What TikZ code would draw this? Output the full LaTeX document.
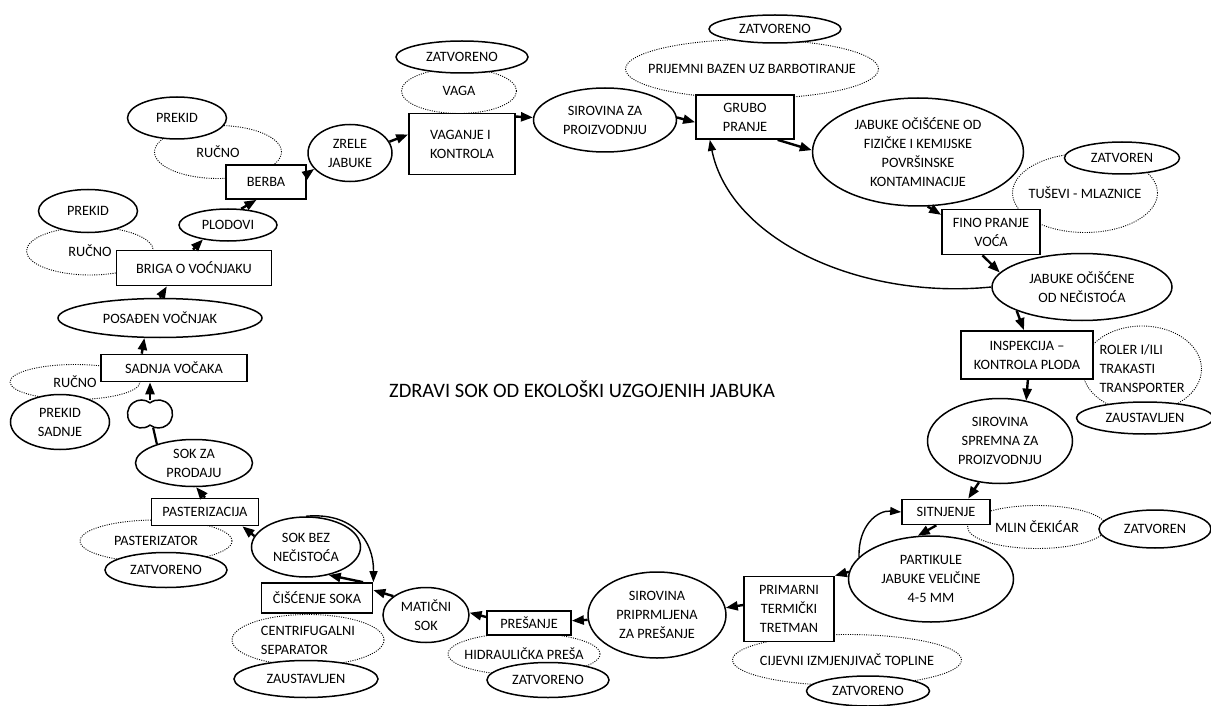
\documentclass[tikz,border=0pt]{standalone}
\usepackage{fontspec}
\setmainfont{Carlito}
\usetikzlibrary{shapes.geometric, arrows.meta, calc}

\begin{document}
\begin{tikzpicture}[x=1pt, y=-1pt,
  every node/.style={inner sep=-300pt, align=center, font=\fontsize{14.3}{19}\selectfont},
  korak/.style={draw, rectangle, fill=white, line width=1.7pt},
  stanje/.style={draw, ellipse, fill=white, line width=1.5pt},
  sredstvo/.style={draw, ellipse, line width=0.9pt, dash pattern=on 1pt off 1.3pt},
  tok/.style={-{Triangle[length=12pt,width=9pt]}, line width=2.4pt},
  povrat/.style={-{Triangle[length=11pt,width=8pt]}, line width=1.4pt}]
\useasboundingbox (0,0) rectangle (1211,706);

% Sredstva
\node[sredstvo, minimum width=130, minimum height=35] (sadnjaRucno) at (75,382) {RUČNO};
\node[sredstvo, minimum width=127, minimum height=48] (brigaRucno) at (90,251) {RUČNO};
\node[sredstvo, minimum width=127, minimum height=53] (berbaRucno) at (218,152) {RUČNO};
\node[sredstvo, minimum width=115, minimum height=45] (vaga) at (459,91) {VAGA};
\node[sredstvo, minimum width=253, minimum height=59] (bazen) at (752,69) {PRIJEMNI BAZEN UZ BARBOTIRANJE};
\node[sredstvo, minimum width=145, minimum height=79] (tusevi) at (1085,193) {TUŠEVI - MLAZNICE};
\node[sredstvo, minimum width=119, minimum height=86, align=left] (roler) at (1142,369) {ROLER I/ILI\\TRAKASTI\\TRANSPORTER};
\node[sredstvo, minimum width=139, minimum height=43] (mlin) at (1037,527) {MLIN ČEKIĆAR};
\node[sredstvo, minimum width=229, minimum height=51] (cijevni) at (847,660) {CIJEVNI IZMJENJIVAČ TOPLINE};
\node[sredstvo, minimum width=152, minimum height=42] (hidraulicka) at (524,654) {HIDRAULIČKA PREŠA};
\node[sredstvo, minimum width=152, minimum height=51, align=left] (separator) at (308,640) {CENTRIFUGALNI\\SEPARATOR};
\node[sredstvo, minimum width=152, minimum height=42] (pasterizator) at (156,541) {PASTERIZATOR};

% Koraci i stanja
\node[korak, minimum width=146, minimum height=27] (sadnja) at (174,368) {SADNJA VOČAKA};
\node[stanje, minimum width=99, minimum height=55] (prekidSadnje) at (60,422) {PREKID\\SADNJE};
\node[stanje, minimum width=204, minimum height=39] (posadjen) at (160,318) {POSAĐEN VOČNJAK};
\node[korak, minimum width=155, minimum height=35] (briga) at (194,268) {BRIGA O VOĆNJAKU};
\node[stanje, minimum width=99, minimum height=43] (brigaPrekid) at (88,211) {PREKID};
\node[stanje, minimum width=98, minimum height=32] (plodovi) at (228,225) {PLODOVI};
\node[korak, minimum width=80, minimum height=34] (berba) at (266,182) {BERBA};
\node[stanje, minimum width=99, minimum height=42] (berbaPrekid) at (177,118) {PREKID};
\node[stanje, minimum width=84, minimum height=57] (zrele) at (350,153) {ZRELE\\JABUKE};
\node[korak, minimum width=106, minimum height=61, align=left] (vaganje) at (462,144) {VAGANJE I\\KONTROLA};
\node[stanje, minimum width=132, minimum height=32] (vagaZatv) at (462,57) {ZATVORENO};
\node[stanje, minimum width=143, minimum height=64] (sirovina) at (605,120) {SIROVINA ZA\\PROIZVODNJU};
\node[korak, minimum width=98, minimum height=44] (grubo) at (745,117) {GRUBO\\PRANJE};
\node[stanje, minimum width=132, minimum height=28] (bazenZatv) at (775,29) {ZATVORENO};
\node[stanje, minimum width=211, minimum height=108] (fizicke) at (918,152) {JABUKE OČIŠĆENE OD\\FIZIČKE I KEMIJSKE\\POVRŠINSKE\\KONTAMINACIJE};
\node[stanje, minimum width=115, minimum height=32] (tuseviZatv) at (1122,158) {ZATVOREN};
\node[korak, minimum width=98, minimum height=45] (fino) at (991,232) {FINO PRANJE\\VOĆA};
\node[stanje, minimum width=180, minimum height=67] (necistoca) at (1082,287) {JABUKE OČIŠĆENE\\OD NEČISTOĆA};
\node[korak, minimum width=132, minimum height=48] (inspekcija) at (1027,355) {INSPEKCIJA –\\KONTROLA PLODA};
\node[stanje, minimum width=137, minimum height=32] (rolerZaust) at (1145,418) {ZAUSTAVLJEN};
\node[stanje, minimum width=145, minimum height=85] (spremna) at (1000,441) {SIROVINA\\SPREMNA ZA\\PROIZVODNJU};
\node[korak, minimum width=88, minimum height=25] (sitnjenje) at (946,512) {SITNJENJE};
\node[stanje, minimum width=112, minimum height=38] (mlinZatv) at (1155,529) {ZATVOREN};
\node[stanje, minimum width=165, minimum height=86] (partikule) at (931,579) {PARTIKULE\\JABUKE VELIČINE\\4-5 MM};
\node[korak, minimum width=90, minimum height=65] (primarni) at (789,609) {PRIMARNI\\TERMIČKI\\TRETMAN};
\node[stanje, minimum width=123, minimum height=30] (cijevniZatv) at (868,691) {ZATVORENO};
\node[stanje, minimum width=138, minimum height=86] (pripremljena) at (657,615) {SIROVINA\\PRIPRMLJENA\\ZA PREŠANJE};
\node[korak, minimum width=84, minimum height=24] (presanje) at (529,623) {PREŠANJE};
\node[stanje, minimum width=122, minimum height=35] (presanjeZatv) at (548,680) {ZATVORENO};
\node[stanje, minimum width=86, minimum height=55] (maticni) at (426,615) {MATIČNI\\SOK};
\node[korak, minimum width=111, minimum height=30] (ciscenje) at (317,598) {ČIŠĆENJE SOKA};
\node[stanje, minimum width=144, minimum height=37] (ciscenjeZaust) at (306,679) {ZAUSTAVLJEN};
\node[stanje, minimum width=109, minimum height=60] (sokBez) at (306,547) {SOK BEZ\\NEČISTOĆA};
\node[korak, minimum width=107, minimum height=27] (pasterizacija) at (205,512) {PASTERIZACIJA};
\node[stanje, minimum width=122, minimum height=35] (pastZatv) at (166,570) {ZATVORENO};
\node[stanje, minimum width=117, minimum height=47] (sokProdaja) at (194,463) {SOK ZA\\PRODAJU};
\node[circle, inner sep=0pt, minimum size=28] (spoj) at (150,414) {};
\node[font=\fontsize{20.5}{25}\selectfont] (naslov) at (582,389) {ZDRAVI SOK OD EKOLOŠKI UZGOJENIH JABUKA};

% Tok
\draw[tok] (sadnja.156) -- (posadjen.232);
\draw[tok] (posadjen.north) -- (briga.214);
\draw[tok] (briga.93) -- (plodovi.210);
\draw[tok] (plodovi.51) -- (berba.242);
\draw[tok] (berba.11) -- (zrele.204);
\draw[tok] (zrele.16) -- (vaganje.170);
\draw[tok] (vaganje.27) -- (sirovina.178);
\draw[tok] (sirovina.2) -- (grubo.186);
\draw[tok] (grubo.-35) -- (fizicke.179);
\draw[tok] (fizicke.-80) -- (fino.161);
\draw[tok] (fino.250) -- (necistoca.170);
\draw[tok] (necistoca.200) -- (inspekcija.97);
\draw[tok] (inspekcija.-88) -- (spremna.57);
\draw[tok] (spremna.243) -- (sitnjenje.31);
\draw[tok] (sitnjenje.234) -- (partikule.107);
\draw[tok] (partikule.175) -- (primarni.north east);
\draw[tok] (primarni.175) -- (pripremljena.6);
\draw[tok] (pripremljena.184) -- (presanje.3);
\draw[tok] (presanje.172) -- (maticni.3);
\draw[tok] (maticni.150) -- (ciscenje.8);
\draw[tok] (ciscenje.19) -- (sokBez.-51);
\draw[tok] (sokBez.168) -- (pasterizacija.-21);
\draw[tok] (pasterizacija.north) -- (sokProdaja.-85);
\draw[line width=2.2pt] (sokProdaja.153) -- (spoj);
\draw[tok] (spoj.north) -- (spoj.north |- sadnja.south);

% Povratni tokovi
\draw[povrat] (necistoca.west) .. controls (860,300) and (730,240) .. (grubo.213);
\draw[povrat] (partikule.163) .. controls (858,525) and (878,510) .. (sitnjenje.west);
\draw[povrat] (sokBez.north) .. controls (352,512) and (374,540) .. (ciscenje.north east);

% Spoj
\draw[line width=1.5pt, fill=white] ($(spoj)+(0,11.1)$) arc[start angle=52.6, end angle=307.4, radius=14]
  arc[start angle=232.6, end angle=487.4, radius=14] -- cycle;
\end{tikzpicture}
\end{document}
